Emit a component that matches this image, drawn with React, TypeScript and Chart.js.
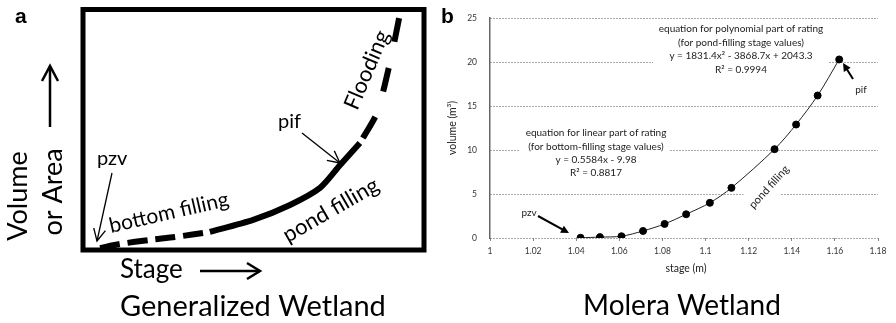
import React, { useEffect, useRef } from "react";
import { Chart, registerables } from "chart.js";
Chart.register(...registerables);

// ---------- Panel b (Molera Wetland) data ----------
const stageM = [1.042, 1.051, 1.061, 1.071, 1.081, 1.091, 1.102, 1.112, 1.132, 1.142, 1.152, 1.162];
const volumeM3 = [0.03, 0.1, 0.2, 0.8, 1.6, 2.7, 4.0, 5.7, 10.1, 12.9, 16.2, 20.3];
const xMin = 1;
const xMax = 1.18;
const xStep = 0.02;
const yMin = 0;
const yMax = 25;
const yStep = 5;

const polyLines = [
  "equation for polynomial part of rating",
  "(for pond-filling stage values)",
  "y = 1831.4x\u00B2 - 3868.7x + 2043.3",
  "R\u00B2 = 0.9994",
];
const linLines = [
  "equation for linear part of rating",
  "(for bottom-filling stage values)",
  "y = 0.5584x - 9.98",
  "R\u00B2 = 0.8817",
];

// ---------- Panel a (Generalized Wetland) schematic curve ----------
const bottomFillingX = [5, 10.9, 19.6, 27, 37.2];
const bottomFillingY = [0.8, 2.5, 4.2, 5.4, 7.5];
const pondFillingX = [37.2, 49.9, 60.7, 69.5, 75.4, 81.2];
const pondFillingY = [7.5, 12.5, 18.7, 25.8, 35.3, 44.5];
const floodingX = [81.2, 86.2, 90, 93];
const floodingY = [44.5, 57, 77.8, 98.5];

const LATO = "Lato, 'Open Sans', sans-serif";

function txt(
  ctx: CanvasRenderingContext2D,
  s: string,
  x: number,
  y: number,
  font: string,
  o: { align?: CanvasTextAlign; baseline?: CanvasTextBaseline; angle?: number; color?: string } = {}
) {
  ctx.save();
  ctx.translate(x, y);
  if (o.angle) ctx.rotate((o.angle * Math.PI) / 180);
  ctx.font = font;
  ctx.fillStyle = o.color || "#000";
  ctx.textAlign = o.align || "left";
  ctx.textBaseline = o.baseline || "alphabetic";
  ctx.fillText(s, 0, 0);
  ctx.restore();
}

function arrow(
  ctx: CanvasRenderingContext2D,
  x1: number,
  y1: number,
  x2: number,
  y2: number,
  width: number,
  headLen: number,
  headHalf: number,
  filled: boolean,
  color = "#000"
) {
  const ang = Math.atan2(y2 - y1, x2 - x1);
  const c = Math.cos(ang);
  const s = Math.sin(ang);
  const bx = x2 - headLen * c;
  const by = y2 - headLen * s;
  ctx.save();
  ctx.strokeStyle = color;
  ctx.fillStyle = color;
  ctx.lineWidth = width;
  ctx.lineCap = "butt";
  ctx.beginPath();
  ctx.moveTo(x1, y1);
  ctx.lineTo(filled ? bx + 1 * c : x2, filled ? by + 1 * s : y2);
  ctx.stroke();
  ctx.beginPath();
  ctx.moveTo(bx - headHalf * s, by + headHalf * c);
  ctx.lineTo(x2, y2);
  ctx.lineTo(bx + headHalf * s, by - headHalf * c);
  if (filled) {
    ctx.closePath();
    ctx.fill();
  } else {
    ctx.stroke();
  }
  ctx.restore();
}

const panelAPlugin = {
  id: "panelA",
  afterDraw(chart: any) {
    const ctx: CanvasRenderingContext2D = chart.ctx;
    const a = chart.chartArea;
    ctx.save();
    ctx.lineWidth = 5;
    ctx.strokeStyle = "#000";
    ctx.strokeRect(a.left, a.top, a.right - a.left, a.bottom - a.top);
    ctx.restore();

    txt(ctx, "a", 15, 23, "bold 21px 'Liberation Sans', Arial, sans-serif");
    txt(ctx, "Volume", 27, 196, `27px ${LATO}`, { align: "center", angle: -90 });
    txt(ctx, "or Area", 62, 192, `27px ${LATO}`, { align: "center", angle: -90 });
    arrow(ctx, 50, 127, 50, 66, 2.5, 15, 8, false);
    txt(ctx, "Stage", 120, 278, `26px ${LATO}`);
    arrow(ctx, 200, 271, 260, 271, 2.5, 13, 8, false);
    txt(ctx, "Generalized Wetland", 120, 316, `29px ${LATO}`);

    txt(ctx, "pzv", 97, 165, `20px ${LATO}`);
    arrow(ctx, 112, 173, 97, 241, 1.3, 12, 6, false);
    txt(ctx, "bottom filling", 111, 233, `21px ${LATO}`, { angle: -13 });
    txt(ctx, "pif", 278, 128, `20px ${LATO}`);
    arrow(ctx, 302, 133, 340, 163, 1.3, 12, 6, false);
    txt(ctx, "pond filling", 288, 243, `22px ${LATO}`, { angle: -30 });
    txt(ctx, "Flooding", 367, 70, `22px ${LATO}`, { align: "center", baseline: "middle", angle: -67 });
  },
};

const panelBPlugin = {
  id: "panelB",
  beforeDatasetsDraw(chart: any) {
    const ctx: CanvasRenderingContext2D = chart.ctx;
    ctx.save();
    ctx.fillStyle = "#fff";
    ctx.fillRect(213, 19, 175, 60);
    ctx.fillRect(80, 124, 150, 58);
    // rotated box behind "pond filling"
    ctx.translate(329, 187);
    ctx.rotate((-48 * Math.PI) / 180);
    ctx.fillRect(-36, -14, 72, 28);
    ctx.restore();

    const f = `10px ${LATO}`;
    const py = [29, 42.5, 56, 69.5];
    polyLines.forEach((l, i) => txt(ctx, l, 301, py[i], f, { align: "center", baseline: "middle", color: "#222" }));
    const ly = [133, 147, 160, 173];
    linLines.forEach((l, i) => txt(ctx, l, 156, ly[i], f, { align: "center", baseline: "middle", color: "#222" }));
    txt(ctx, "pond filling", 329, 187, `11px ${LATO}`, { align: "center", baseline: "middle", angle: -48, color: "#222" });
  },
  afterDraw(chart: any) {
    const ctx: CanvasRenderingContext2D = chart.ctx;
    txt(ctx, "b", 1, 23, "bold 21px 'Liberation Sans', Arial, sans-serif");
    txt(ctx, "volume (m\u00B3)", 13, 128, `10.5px ${LATO}`, { align: "center", baseline: "middle", angle: -90, color: "#222" });
    txt(ctx, "stage (m)", 246, 269, `10.5px ${LATO}`, { align: "center", baseline: "middle", color: "#222" });
    txt(ctx, "pzv", 89, 213, `10px ${LATO}`, { align: "center", baseline: "middle", color: "#222" });
    arrow(ctx, 98, 216, 129, 233, 2, 8, 4, true);
    txt(ctx, "pif", 421, 90, `10px ${LATO}`, { align: "center", baseline: "middle", color: "#222" });
    arrow(ctx, 413, 79, 403, 63, 2, 8, 4, true);
    txt(ctx, "Molera Wetland", 242, 315, `28px ${LATO}`, { align: "center" });
  },
};

function makeA(canvas: HTMLCanvasElement) {
  const toPts = (xs: number[], ys: number[]) => xs.map((x, i) => ({ x, y: ys[i] }));
  const common = { borderColor: "#000", borderWidth: 6, pointRadius: 0, tension: 0.25, fill: false, clip: false as any };
  return new Chart(canvas, {
    type: "line",
    data: {
      datasets: [
        { ...common, label: "bottom filling", data: toPts(bottomFillingX, bottomFillingY), borderDash: [20, 8] },
        { ...common, label: "pond filling", data: toPts(pondFillingX, pondFillingY) },
        { ...common, label: "flooding", data: toPts(floodingX, floodingY), borderDash: [24, 27], borderDashOffset: 45 },
      ],
    },
    options: {
      responsive: false,
      animation: false,
      devicePixelRatio: 1,
      layout: { padding: { left: 83, top: 9.5, right: 16, bottom: 73 } },
      plugins: { legend: { display: false }, tooltip: { enabled: false } },
      scales: {
        x: { type: "linear", min: 0, max: 100, display: false },
        y: { type: "linear", min: 0, max: 100, display: false },
      },
    },
    plugins: [panelAPlugin],
  } as any);
}

function makeB(canvas: HTMLCanvasElement) {
  const tickFont = { family: LATO, size: 8.5 };
  return new Chart(canvas, {
    type: "line",
    data: {
      datasets: [
        {
          label: "volume",
          data: stageM.map((x, i) => ({ x, y: volumeM3[i] })),
          borderColor: "#222",
          borderWidth: 1,
          pointRadius: 3.5,
          pointBackgroundColor: "#000",
          pointBorderColor: "#000",
          tension: 0.3,
          fill: false,
        },
      ],
    },
    options: {
      responsive: false,
      animation: false,
      devicePixelRatio: 1,
      layout: { padding: { left: 0, right: 18, top: 15, bottom: 0 } },
      plugins: { legend: { display: false }, tooltip: { enabled: false } },
      scales: {
        x: {
          type: "linear",
          min: xMin,
          max: xMax,
          ticks: {
            stepSize: xStep,
            autoSkip: false,
            maxRotation: 0,
            padding: 5,
            color: "#333",
            font: tickFont,
            callback: (v: any) => String(Number(Number(v).toFixed(2))),
          },
          grid: { display: true, drawOnChartArea: false, drawTicks: true, tickLength: 3, color: "#888" },
          border: { display: false },
          afterFit: (s: any) => {
            s.height = 85;
          },
        },
        y: {
          type: "linear",
          min: yMin,
          max: yMax,
          ticks: { stepSize: yStep, padding: 13, color: "#333", font: tickFont },
          grid: { drawTicks: false, color: "#555", lineWidth: 1 },
          border: { display: true, color: "#666", width: 1.5, dash: [1, 2] },
          afterFit: (s: any) => {
            s.width = 50;
          },
        },
      },
    },
    plugins: [panelBPlugin],
  } as any);
}

export default function App() {
  const refA = useRef<HTMLCanvasElement>(null);
  const refB = useRef<HTMLCanvasElement>(null);
  useEffect(() => {
    const ca = makeA(refA.current!);
    const cb = makeB(refB.current!);
    return () => {
      ca.destroy();
      cb.destroy();
    };
  }, []);
  return (
    <div style={{ position: "absolute", left: 0, top: 0, width: 896, height: 323, background: "#fff", overflow: "hidden" }}>
      <canvas ref={refA} width={440} height={323} style={{ position: "absolute", left: 0, top: 0, width: 440, height: 323 }} />
      <canvas ref={refB} width={456} height={323} style={{ position: "absolute", left: 440, top: 0, width: 456, height: 323 }} />
    </div>
  );
}
